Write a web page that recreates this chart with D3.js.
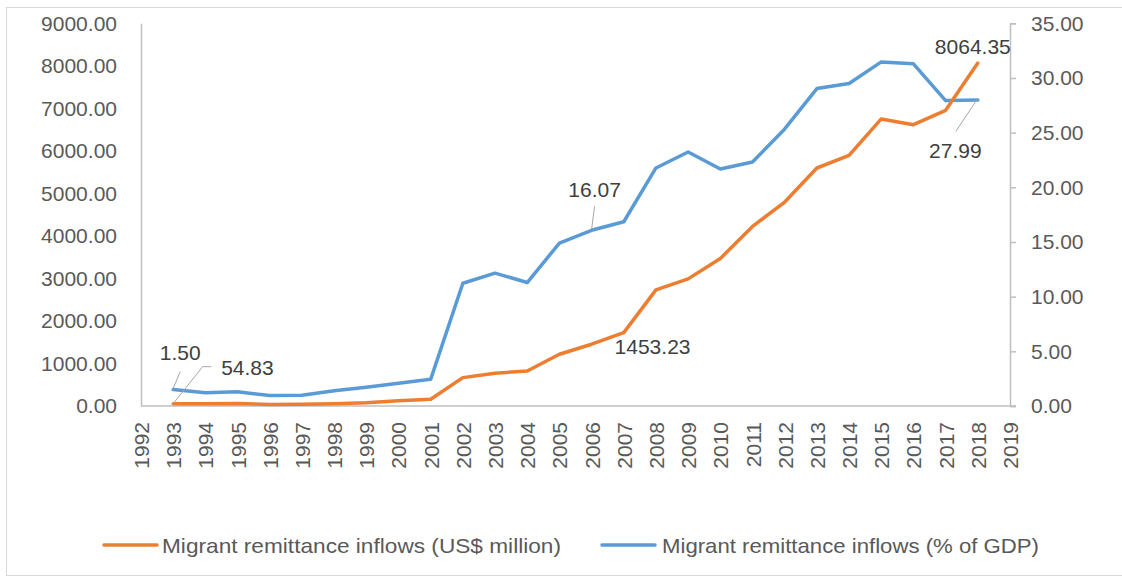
<!DOCTYPE html>
<html>
<head>
<meta charset="utf-8">
<script src="https://cdn.jsdelivr.net/npm/d3@7"></script>
<style>
  html, body { margin: 0; padding: 0; background: #fff; }
  svg { display: block; }
  text { font-family: "Liberation Sans", Arial, sans-serif; }
</style>
</head>
<body>
<svg id="chart" width="1122" height="579"></svg>
<script>
// ---- data ----
const years = d3.range(1992, 2020);                // category axis 1992..2019
const dataYears = d3.range(1993, 2019);            // years with values
const usdMillion = [54.83, 50, 58, 35, 40, 55, 78, 125, 158, 667, 770, 824, 1217, 1453.23, 1726,
                    2731, 2990, 3469, 4222, 4796, 5597, 5894, 6751, 6616, 6953, 8064.35];
const pctGDP = [1.50, 1.22, 1.31, 0.95, 0.98, 1.40, 1.71, 2.08, 2.44, 11.23, 12.15, 11.29, 14.90, 16.07, 16.85,
                21.77, 23.23, 21.67, 22.32, 25.34, 29.03, 29.49, 31.47, 31.29, 27.93, 27.99];
const leftTicks = [0, 1000, 2000, 3000, 4000, 5000, 6000, 7000, 8000, 9000];
const rightTicks = [0, 5, 10, 15, 20, 25, 30, 35];
const seriesNames = ["Migrant remittance inflows (US$ million)", "Migrant remittance inflows (% of GDP)"];
const colors = ["#ED7D31", "#5B9BD5"];

// ---- layout ----
const svg = d3.select("#chart");
const L = 141, R = 1010, T = 23.3, B = 406;
const FS = "21px";
const FF = "Liberation Sans, Arial, sans-serif";

svg.append("rect").attr("x", 6.5).attr("y", 7.5).attr("width", 1120).attr("height", 568)
  .attr("fill", "#fff").attr("stroke", "#d9d9d9").attr("stroke-width", 1);

const x = d3.scalePoint().domain(years).range([L, R]).padding(0);
const yL = d3.scaleLinear().domain([0, 9000]).range([B, T]);
const yR = d3.scaleLinear().domain([0, 35]).range([B, T]);

const axisColor = "#bfbfbf";
const tickColor = "#595959";

// left axis
const gL = svg.append("g").attr("transform", `translate(${L},0)`)
  .call(d3.axisLeft(yL).tickValues(leftTicks).tickFormat(d3.format(".2f")).tickSize(0).tickPadding(24));
gL.select(".domain").attr("stroke", axisColor).attr("stroke-width", 1.5);
gL.selectAll("text").attr("fill", tickColor).style("font-size", FS).style("font-family", FF);

// right axis
const gR = svg.append("g").attr("transform", `translate(${R},0)`)
  .call(d3.axisRight(yR).tickValues(rightTicks).tickFormat(d3.format(".2f")).tickSize(6).tickPadding(15).tickSizeOuter(6));
gR.select(".domain").attr("stroke", axisColor).attr("stroke-width", 1.5);
gR.selectAll(".tick line").attr("stroke", axisColor).attr("stroke-width", 1.5);
gR.selectAll("text").attr("fill", tickColor).style("font-size", FS).style("font-family", FF);

// bottom axis
const gB = svg.append("g").attr("transform", `translate(0,${B})`)
  .call(d3.axisBottom(x).tickSize(0).tickSizeOuter(0).tickPadding(0));
gB.select(".domain").attr("stroke", axisColor).attr("stroke-width", 1.5)
  .attr("d", `M${L},0H${R + 6}`);
gB.selectAll("text")
  .attr("fill", tickColor).style("font-size", FS).style("font-family", FF)
  .attr("text-anchor", "end").attr("dy", null).attr("y", null)
  .attr("transform", "translate(0,16) rotate(-90)")
  .attr("dominant-baseline", "central");

// lines
const rows = dataYears.map((yr, i) => ({ yr, usd: usdMillion[i], pct: pctGDP[i] }));
const lineUsd = d3.line().x(d => x(d.yr)).y(d => yL(d.usd));
const linePct = d3.line().x(d => x(d.yr)).y(d => yR(d.pct));

svg.append("path").datum(rows).attr("d", linePct)
  .attr("fill", "none").attr("stroke", colors[1]).attr("stroke-width", 3.5)
  .attr("stroke-linejoin", "round").attr("stroke-linecap", "round");
svg.append("path").datum(rows).attr("d", lineUsd)
  .attr("fill", "none").attr("stroke", colors[0]).attr("stroke-width", 3.5)
  .attr("stroke-linejoin", "round").attr("stroke-linecap", "round");

// data labels
const labelColor = "#404040";
const leaderColor = "#a6a6a6";
function pt(i, key) {
  const r = rows[i];
  return key === "usd" ? [x(r.yr), yL(r.usd)] : [x(r.yr), yR(r.pct)];
}
function label(txt, px, py, anchor) {
  svg.append("text").attr("x", px).attr("y", py).attr("text-anchor", anchor)
    .attr("dominant-baseline", "central").attr("fill", labelColor).style("font-size", FS).text(txt);
}
function leader(points) {
  svg.append("path").attr("d", d3.line()(points)).attr("fill", "none")
    .attr("stroke", leaderColor).attr("stroke-width", 1);
}
const fmt = d3.format(".2f");
const i93 = 0, i06 = dataYears.indexOf(2006), i18 = dataYears.length - 1;

// 1993 pct
let p = pt(i93, "pct");
label(fmt(pctGDP[i93]), p[0] + 7, p[1] - 37, "middle");
leader([[p[0], p[1] - 1], [p[0] + 7, p[1] - 18]]);
// 1993 usd
p = pt(i93, "usd");
label(fmt(usdMillion[i93]), p[0] + 48, p[1] - 36, "start");
leader([[p[0], p[1]], [p[0] + 29.5, p[1] - 37], [p[0] + 38, p[1] - 37]]);
// 2006 pct
p = pt(i06, "pct");
label(fmt(pctGDP[i06]), p[0] + 3, p[1] - 41, "middle");
leader([[p[0], p[1] - 1], [p[0] + 3, p[1] - 24]]);
// 2006 usd
p = pt(i06, "usd");
label(fmt(usdMillion[i06]), p[0] + 23, p[1] + 2, "start");
// 2018 usd
p = pt(i18, "usd");
label(fmt(usdMillion[i18]), p[0] - 5, p[1] - 17, "middle");
// 2018 pct
p = pt(i18, "pct");
label(fmt(pctGDP[i18]), p[0] - 22.5, p[1] + 51, "middle");
leader([[p[0] - 1, p[1]], [p[0] - 22, p[1] + 31.5]]);

// legend
const legY = 545;
const legend = [
  { x1: 104, x2: 157, tx: 162, tw: 399 },
  { x1: 602, x2: 655, tx: 662, tw: 377 }
];
legend.forEach((l, i) => {
  svg.append("line").attr("x1", l.x1).attr("x2", l.x2).attr("y1", legY).attr("y2", legY)
    .attr("stroke", colors[i]).attr("stroke-width", 3.5).attr("stroke-linecap", "round");
  svg.append("text").attr("x", l.tx).attr("y", legY).attr("dominant-baseline", "central")
    .attr("fill", tickColor).style("font-size", FS)
    .attr("textLength", l.tw).attr("lengthAdjust", "spacingAndGlyphs")
    .text(seriesNames[i]);
});
</script>
</body>
</html>
